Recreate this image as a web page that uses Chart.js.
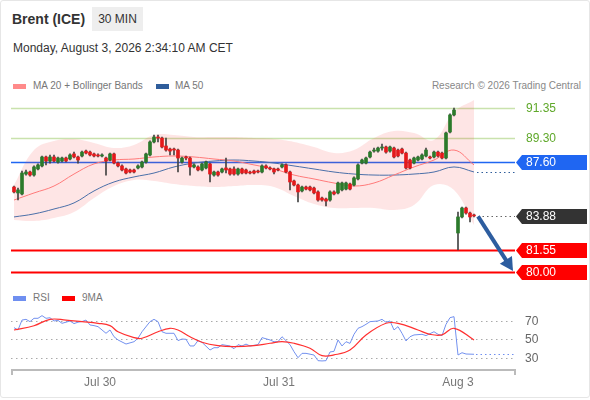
<!DOCTYPE html>
<html>
<head>
<meta charset="utf-8">
<script src="https://cdn.jsdelivr.net/npm/chart.js@4.4.1/dist/chart.umd.min.js"></script>
<style>
  html, body { margin: 0; padding: 0; background: #fff; overflow: hidden; }
  body { width: 590px; height: 400px; position: relative; font-family: "Liberation Sans", Arial, sans-serif; }
  #frame { position: absolute; left: 0; top: 0; width: 588px; height: 396px; border: 1px solid #e6e6e6; border-radius: 3px; }
  .abs { position: absolute; white-space: nowrap; }
  #title { left: 12px; top: 11px; font-size: 14px; font-weight: bold; color: #333; }
  #period { left: 92px; top: 7px; width: 51px; height: 24px; line-height: 24px; text-align: center; background: #eee; font-size: 12px; color: #333; }
  #date { left: 13px; top: 41px; font-size: 12px; color: #333; }
  .leg { font-size: 10px; color: #777; }
  .sw { position: absolute; width: 13px; height: 5px; }
  canvas { position: absolute; left: 0; }
</style>
</head>
<body>
<div id="frame"></div>
<div class="abs" id="title">Brent (ICE)</div>
<div class="abs" id="period">30 MIN</div>
<div class="abs" id="date">Monday, August 3, 2026 2:34:10 AM CET</div>

<div class="sw" style="left:13px;top:84px;background:#ff8a8a"></div>
<div class="abs leg" style="left:33px;top:80px">MA 20 + Bollinger Bands</div>
<div class="sw" style="left:156px;top:84px;background:#2f5d9b"></div>
<div class="abs leg" style="left:175px;top:80px">MA 50</div>
<div class="abs leg" style="right:9px;top:80px;color:#888">Research © 2026 Trading Central</div>

<div class="sw" style="left:13px;top:296px;background:#6f8ff0"></div>
<div class="abs leg" style="left:33px;top:292px">RSI</div>
<div class="sw" style="left:62px;top:296px;background:#ff0000"></div>
<div class="abs leg" style="left:82px;top:292px">9MA</div>

<canvas id="priceChart" width="590" height="190" style="top:95px"></canvas>
<canvas id="rsiChart" width="590" height="110" style="top:290px"></canvas>

<script>
// 30 min candles, index 0 = first bar on the chart
const opens = [85.88,85.47,85.40,86.78,86.92,86.71,87.13,87.34,87.96,87.68,87.96,87.61,87.68,87.89,87.82,88.17,87.96,88.03,88.37,88.30,
  88.17,88.10,88.03,87.89,87.75,88.17,87.54,87.34,87.13,87.06,87.06,87.20,87.27,87.61,88.10,89.00,89.34,89.27,88.72,88.51,
  88.51,88.44,87.61,87.96,87.89,87.27,87.27,87.06,87.20,87.48,86.71,86.92,86.92,87.20,87.13,87.13,86.78,87.13,87.06,86.92,
  86.99,86.99,86.92,87.34,87.20,87.13,87.13,87.27,87.41,86.92,86.30,86.02,85.61,85.88,85.88,85.81,85.54,85.12,85.05,84.98,
  85.54,85.47,85.68,85.74,86.09,86.02,86.44,87.54,87.54,87.96,88.37,88.37,88.58,88.65,88.37,88.58,88.44,88.51,88.23,87.75,
  87.54,87.75,87.82,88.03,87.96,87.96,88.30,88.23,87.89,89.69,90.87,82.70,83.81,84.43,84.08,83.94];
const highs = [85.95,85.81,86.99,87.06,86.99,87.34,87.48,88.03,88.03,88.10,88.10,87.96,87.96,87.96,88.17,88.30,88.03,88.37,88.44,88.37,
  88.23,88.17,88.17,87.96,88.23,88.23,87.61,87.41,87.20,87.13,87.13,87.41,87.68,88.23,89.07,89.48,89.48,89.34,89.27,88.58,
  88.58,88.51,87.96,88.03,87.96,87.48,87.34,87.54,87.68,87.54,86.99,86.99,87.20,87.89,87.20,87.27,87.20,87.20,87.13,86.99,
  87.06,87.06,87.41,87.41,87.27,87.20,87.20,87.48,87.48,86.99,86.37,86.09,85.95,85.95,85.95,85.88,85.61,85.19,85.12,85.61,
  85.61,86.23,86.23,86.23,86.16,86.58,87.48,87.82,87.96,88.37,88.58,88.65,88.86,88.72,88.72,88.65,88.51,88.58,88.30,87.82,
  87.96,88.03,88.17,88.58,88.03,88.37,88.37,88.30,89.69,90.94,91.35,84.15,84.50,84.50,84.15,84.01];
const lows = [85.47,84.98,85.33,86.71,86.64,86.64,87.06,87.27,87.41,87.54,87.61,87.54,87.61,87.61,87.75,87.89,87.54,87.96,88.17,88.03,
  87.96,87.96,87.96,86.71,87.68,87.48,87.27,86.99,86.78,86.85,86.85,87.13,87.20,87.54,88.03,88.93,89.00,88.58,88.37,88.10,
  88.10,86.92,87.54,87.75,86.71,87.20,86.99,86.99,87.13,86.23,86.64,86.64,86.85,86.85,86.71,86.71,86.71,86.78,86.78,86.78,
  86.78,86.85,86.85,87.13,87.06,86.78,86.99,87.20,86.85,85.68,85.95,84.85,85.54,85.68,85.61,85.40,84.91,84.91,84.57,84.91,
  85.33,85.40,85.61,85.68,85.68,85.95,86.37,87.48,87.48,87.89,88.30,88.30,88.44,88.23,88.30,87.89,87.96,88.17,87.13,87.13,
  87.48,87.68,87.75,87.96,87.82,87.89,87.96,87.82,87.82,89.62,90.80,81.52,83.74,84.01,83.46,83.81];
const closes = [85.54,85.68,86.85,86.92,86.71,87.27,87.41,87.96,87.68,87.96,87.68,87.89,87.89,87.68,88.10,87.96,87.75,88.30,88.23,88.10,
  88.03,88.03,88.10,87.68,88.17,87.54,87.34,87.06,86.85,86.92,86.92,87.34,87.61,88.17,89.00,89.34,89.27,88.65,88.44,88.37,
  88.44,87.89,87.89,87.89,87.27,87.41,87.06,87.48,87.61,86.78,86.92,86.71,87.13,87.06,86.78,86.78,87.13,86.85,86.85,86.85,
  86.85,86.92,87.34,87.20,87.13,86.92,87.06,87.41,86.92,86.23,86.02,85.54,85.88,85.74,85.68,85.47,84.98,84.98,84.91,85.54,
  85.40,86.16,86.16,86.16,85.74,86.51,87.41,87.75,87.89,88.30,88.44,88.58,88.65,88.30,88.65,87.96,88.03,88.23,87.20,87.20,
  87.89,87.96,88.10,88.44,87.89,88.30,88.03,87.89,89.62,90.87,91.21,83.81,84.43,84.08,83.81,83.88];

// moving averages and Bollinger bands, read every 5 bars
const maIdx   = [0,5,10,15,20,25,30,35,40,45,50,55,60,65,70,75,80,85,90,95,100,105,110,115];
const ma20    = [84.98,85.47,85.95,86.78,87.48,87.75,87.82,87.96,88.03,87.96,87.82,87.68,87.41,87.13,86.71,86.44,86.16,85.95,86.16,86.71,87.27,87.75,88.44,87.41];
const ma50    = [83.81,84.02,84.36,84.78,85.61,86.23,86.58,86.85,87.27,87.54,87.68,87.75,87.68,87.54,87.34,87.13,86.92,86.78,86.71,86.71,86.78,86.92,87.27,86.92];
const bbUpper = [86.02,88.44,89.07,89.20,88.93,88.58,88.79,89.48,89.48,89.34,89.34,89.34,89.27,89.20,89.00,88.65,88.24,88.44,89.27,89.76,89.62,89.14,91.07,91.90];
const bbLower = [83.60,83.53,83.74,84.15,85.12,85.95,86.37,86.30,86.09,85.95,85.88,85.95,86.02,85.88,85.26,84.71,84.43,84.43,84.43,84.29,84.64,86.02,85.68,83.25];

// key levels on the right
const levels     = [91.35, 89.30, 87.60, 83.88, 81.55, 80.00];
const levelKinds = ['target', 'target', 'pivot', 'last', 'support', 'support'];
const arrowFrom  = { x: 116, y: 83.85 };
const arrowTo    = { x: 124.75, y: 80.07 };

// RSI panel
const rsiIdx = [0,1,2,3,4,5,6,7,8,9,10,11,12,13,14,15,16,17,18,19,20,21,23,24,25,26,28,30,31,32,34,35,36,37,38,40,41,42,43,44,45,46,47,49,50,51,52,54,55,56,57,58,59,61,62,64,65,66,67,69,70,71,72,73,75,76,77,78,79,80,81,82,83,84,85,86,87,88,89,91,92,93,94,95,96,97,98,99,100,102,103,105,106,107,108,109,110,111,112,113,115];
const rsiVal = [62.8,60.3,71,71.8,69.3,72.9,72.9,75.8,72.9,73.5,70,70.7,67.5,68.7,70,67.2,68.7,69.4,71,65.7,65,63.9,56.7,60.3,53,49.5,45.1,47.6,51.3,58.4,69.3,71.8,69.3,58.4,56.7,56.7,48.8,50.5,50.2,43,43,48.8,46.9,38.6,41.1,41.1,44.4,43,40,44.4,43,45,43,44.4,52,49.5,47.6,47.6,53,44.4,36.8,30.3,35,35,33.2,27.1,26.8,27.1,36.5,37.2,49.5,43,47.6,45.8,55.6,62.1,63.9,66.4,69.3,70,71.8,68.6,70,60.3,63.9,56.7,48.4,53,54.9,55.6,54.2,58.4,55.6,54.2,66.4,73.6,74.7,33.2,35.7,34.3,34];
const ma9Idx = [0,5,9,13,17,21,24,26,30,32,36,39,41,44,47,51,55,60,64,67,70,74,77,80,84,88,93,96,101,104,107,110,115];
const ma9Val = [60.3,64.9,71.8,71,69.3,67.5,65,58.4,52,51.3,58.4,62.1,60.3,53,47,43.3,42.2,43.3,45.9,47.6,45.9,40.5,32.5,33.3,38.6,54.9,67.5,67.5,60.3,55.6,55,62.1,49.5];
const rsiLevels = [70, 50, 30];

// x axis
const dayIdx = [21.5, 66.25, 111];
const dayLabels = ['Jul 30', 'Jul 31', 'Aug 3'];

const X_MIN = -0.75, X_MAX = 125.25;
const FONT = '"Liberation Sans", Arial, sans-serif';

const levelStyle = {
  target:  { line: '#c9e2ad', width: 1.5, text: '#5fa82a', tag: null },
  pivot:   { line: '#1f66f2', width: 1.5, text: '#fff', tag: '#1f66f2' },
  last:    { line: '#777', width: 1, text: '#fff', tag: '#333', dotted: true },
  support: { line: '#ff0000', width: 2, text: '#fff', tag: '#ff0000' }
};

const idx = opens.map((_, i) => i);
const bodyColors = idx.map(i => closes[i] >= opens[i] ? '#2b7a2b' : '#e3191b');
const pts = (xs, ys) => xs.map((x, i) => ({ x: x, y: ys[i] }));

function drawTag(ctx, x, y, text, fill, color) {
  if (fill) {
    ctx.fillStyle = fill;
    ctx.beginPath();
    ctx.moveTo(x, y);
    ctx.lineTo(x + 6, y - 7.5);
    ctx.lineTo(x + 71, y - 7.5);
    ctx.lineTo(x + 71, y + 7.5);
    ctx.lineTo(x + 6, y + 7.5);
    ctx.closePath();
    ctx.fill();
  }
  ctx.fillStyle = color;
  ctx.font = '12px ' + FONT;
  ctx.textBaseline = 'middle';
  ctx.textAlign = 'left';
  ctx.fillText(text, x + 10, y + 0.5);
}

const levelsPlugin = {
  id: 'levels',
  beforeDatasetsDraw(chart) {
    const { ctx, chartArea, scales } = chart;
    ctx.save();
    levels.forEach((v, k) => {
      const st = levelStyle[levelKinds[k]];
      if (st.dotted) return;
      const y = Math.round(scales.y.getPixelForValue(v)) + 0.5;
      ctx.strokeStyle = st.line;
      ctx.lineWidth = st.width;
      ctx.beginPath();
      ctx.moveTo(chartArea.left, y);
      ctx.lineTo(chartArea.right, y);
      ctx.stroke();
    });
    ctx.restore();
  },
  afterDraw(chart) {
    const { ctx, chartArea, scales } = chart;
    const last = idx.length - 1;
    ctx.save();
    // dotted extensions to the price axis
    ctx.setLineDash([1.5, 3]);
    ctx.lineWidth = 1;
    ctx.strokeStyle = '#666';
    let y = Math.round(scales.y.getPixelForValue(closes[last])) + 0.5;
    ctx.beginPath();
    ctx.moveTo(scales.x.getPixelForValue(last + 1), y);
    ctx.lineTo(chartArea.right, y);
    ctx.stroke();
    ctx.strokeStyle = '#2f5d9b';
    y = Math.round(scales.y.getPixelForValue(ma50[ma50.length - 1])) + 0.5;
    ctx.beginPath();
    ctx.moveTo(scales.x.getPixelForValue(maIdx[maIdx.length - 1]) + 3, y);
    ctx.lineTo(chartArea.right, y);
    ctx.stroke();
    ctx.setLineDash([]);

    // forecast arrow
    const x0 = scales.x.getPixelForValue(arrowFrom.x), y0 = scales.y.getPixelForValue(arrowFrom.y);
    const x1 = scales.x.getPixelForValue(arrowTo.x), y1 = scales.y.getPixelForValue(arrowTo.y);
    const a = Math.atan2(y1 - y0, x1 - x0);
    const head = 15;
    ctx.strokeStyle = '#2d5d9f';
    ctx.fillStyle = '#2d5d9f';
    ctx.lineWidth = 4;
    ctx.beginPath();
    ctx.moveTo(x0, y0);
    ctx.lineTo(x1 - Math.cos(a) * head * 0.8, y1 - Math.sin(a) * head * 0.8);
    ctx.stroke();
    ctx.beginPath();
    ctx.moveTo(x1, y1);
    ctx.lineTo(x1 - Math.cos(a - 0.5) * head, y1 - Math.sin(a - 0.5) * head);
    ctx.lineTo(x1 - Math.cos(a + 0.5) * head, y1 - Math.sin(a + 0.5) * head);
    ctx.closePath();
    ctx.fill();

    // tags
    levels.forEach((v, k) => {
      const st = levelStyle[levelKinds[k]];
      const ty = Math.round(scales.y.getPixelForValue(v)) + 0.5;
      drawTag(ctx, chartArea.right + 1, ty, v.toFixed(2), st.tag, st.text);
    });
    ctx.restore();
  }
};

new Chart(document.getElementById('priceChart'), {
  type: 'bar',
  data: {
    datasets: [
      { type: 'line', data: pts(maIdx, bbUpper), borderWidth: 0, borderColor: 'rgba(0,0,0,0)', pointRadius: 0,
        tension: 0.4, fill: '+1', backgroundColor: 'rgba(250,70,70,0.14)', order: 10 },
      { type: 'line', data: pts(maIdx, bbLower), borderWidth: 0, borderColor: 'rgba(0,0,0,0)', pointRadius: 0,
        tension: 0.4, fill: false, order: 11 },
      { type: 'line', data: pts(maIdx, ma50), borderColor: '#4a6fa8', borderWidth: 1, pointRadius: 0, tension: 0.4, order: 5 },
      { type: 'line', data: pts(maIdx, ma20), borderColor: '#ff7a7a', borderWidth: 1, pointRadius: 0, tension: 0.4, order: 4 },
      { type: 'bar', data: idx.map(i => ({ x: i, y: [lows[i], highs[i]] })), backgroundColor: '#444',
        barThickness: 1, grouped: false, order: 2 },
      { type: 'bar', data: idx.map(i => ({ x: i, y: [opens[i], closes[i]] })), backgroundColor: bodyColors,
        borderColor: '#333', borderWidth: 0, barThickness: 3, minBarLength: 1, grouped: false, order: 1 }
    ]
  },
  options: {
    responsive: false,
    animation: false,
    layout: { padding: { left: 11, right: 75, top: 4, bottom: 4 } },
    scales: {
      x: { type: 'linear', min: X_MIN, max: X_MAX, offset: false, display: false },
      y: { min: 79.377, max: 91.973, display: false }
    },
    plugins: { legend: { display: false }, tooltip: { enabled: false } }
  },
  plugins: [levelsPlugin]
});

const rsiPlugin = {
  id: 'rsiDecor',
  beforeDatasetsDraw(chart) {
    const { ctx, chartArea, scales } = chart;
    ctx.save();
    ctx.setLineDash([1.5, 3.5]);
    ctx.strokeStyle = '#aaa';
    ctx.lineWidth = 1;
    ctx.font = '12px ' + FONT;
    ctx.textBaseline = 'middle';
    ctx.fillStyle = '#666';
    rsiLevels.forEach(v => {
      const y = Math.round(scales.y.getPixelForValue(v)) + 0.5;
      ctx.beginPath();
      ctx.moveTo(chartArea.left, y);
      ctx.lineTo(chartArea.right, y);
      ctx.stroke();
      ctx.fillText(String(v), chartArea.right + 10, y);
    });
    ctx.restore();
  },
  afterDraw(chart) {
    const { ctx, chartArea, scales } = chart;
    ctx.save();
    // RSI dotted extension
    ctx.setLineDash([1.5, 3]);
    ctx.strokeStyle = '#6f8ff0';
    ctx.lineWidth = 1;
    const ly = Math.round(scales.y.getPixelForValue(rsiVal[rsiVal.length - 1])) + 0.5;
    ctx.beginPath();
    ctx.moveTo(scales.x.getPixelForValue(rsiIdx[rsiIdx.length - 1]) + 2, ly);
    ctx.lineTo(chartArea.right, ly);
    ctx.stroke();
    ctx.setLineDash([]);
    // time axis
    const by = chartArea.bottom;
    ctx.strokeStyle = '#bbb';
    ctx.lineWidth = 2;
    ctx.beginPath();
    ctx.moveTo(chartArea.left + 1, by + 5);
    ctx.lineTo(chartArea.left + 1, by);
    ctx.lineTo(chartArea.right, by);
    ctx.lineTo(chartArea.right, by + 5);
    ctx.stroke();
    ctx.fillStyle = '#777';
    ctx.font = '12px ' + FONT;
    ctx.textAlign = 'center';
    ctx.textBaseline = 'middle';
    dayIdx.forEach((d, k) => {
      ctx.fillText(dayLabels[k], scales.x.getPixelForValue(d), by + 13);
    });
    ctx.restore();
  }
};

new Chart(document.getElementById('rsiChart'), {
  type: 'line',
  data: {
    datasets: [
      { data: pts(ma9Idx, ma9Val), borderColor: '#ff3030', borderWidth: 1.2, pointRadius: 0, tension: 0.4 },
      { data: pts(rsiIdx, rsiVal), borderColor: '#7391ef', borderWidth: 1, pointRadius: 0, tension: 0 }
    ]
  },
  options: {
    responsive: false,
    animation: false,
    layout: { padding: { left: 11, right: 75, top: 14.35, bottom: 30 } },
    scales: {
      x: { type: 'linear', min: X_MIN, max: X_MAX, display: false },
      y: { min: 17, max: 88, display: false }
    },
    plugins: { legend: { display: false }, tooltip: { enabled: false } }
  },
  plugins: [rsiPlugin]
});
</script>
</body>
</html>
